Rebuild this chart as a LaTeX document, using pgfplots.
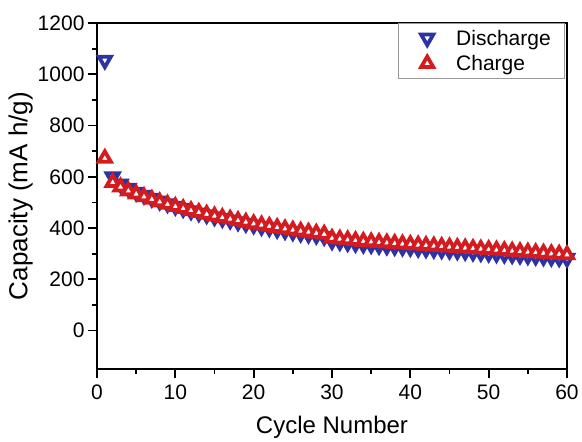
\documentclass[border=0pt]{standalone}
\usepackage{fontspec}
\setmainfont{Liberation Sans}
\usepackage{pgfplots}
\pgfplotsset{compat=1.18}
\definecolor{dblue}{RGB}{45,50,165}
\definecolor{dred}{RGB}{212,28,32}
\pgfplotstableread{
n dis ch
1 1055 672
2 600 578
3 572 560
4 555 545
5 540 533
6 528 522
7 516 512
8 505 502
9 495 493
10 485 484
11 476 476
12 467 468
13 459 461
14 452 454
15 444 447
16 437 441
17 431 435
18 424 429
19 418 423
20 412 417
21 406 412
22 401 407
23 395 402
24 390 397
25 385 392
26 380 388
27 376 384
28 372 380
29 367 376
30 350 360
31 347 357
32 343 354
33 340 351
34 337 348
35 335 346
36 332 344
37 330 342
38 328 340
39 326 338
40 324 336
41 321 334
42 319 332
43 317 330
44 315 328
45 313 326
46 311 324
47 309 322
48 306 320
49 304 318
50 302 316
51 300 314
52 298 312
53 296 310
54 294 308
55 292 306
56 290 304
57 288 302
58 286 300
59 284 298
60 282 296
}\datatab
\begin{document}
\begin{tikzpicture}
\begin{axis}[name=ax, scale only axis, width=470pt, height=346pt,
  xmin=0, xmax=60, ymin=-150, ymax=1200,
  xtick={0,10,...,60}, ytick={0,200,...,1200},
  minor x tick num=1, minor y tick num=1,
  tick align=outside, xtick pos=bottom, ytick pos=left,
  major tick length=9pt, minor tick length=5pt,
  axis line style={line width=2pt},
  every tick/.style={line width=1.8pt, black},
  /pgf/number format/assume math mode=true,
  /pgf/number format/1000 sep={},
  tick label style={font=\fontsize{21}{21}\selectfont},
  xticklabel style={yshift=-3pt},
  xlabel={Cycle Number}, ylabel={Capacity (mA h/g)},
  xlabel style={font=\fontsize{24}{24}\selectfont, yshift=-10pt},
  ylabel style={font=\fontsize{26}{26}\selectfont, yshift=-2pt},
  legend style={at={(0.996,1)}, anchor=north east, draw=gray!80, line width=0.7pt,
    font=\fontsize{21}{21}\selectfont, inner xsep=0pt, inner ysep=4pt,
    row sep=4pt, column sep=0pt,
    cells={anchor=west, inner sep=1pt, text height=16pt, text depth=5pt}},
  legend cell align=left,
  legend image code/.code={\path[draw=none] (0pt,0pt) -- (56pt,0pt); \draw[#1] plot coordinates {(29pt,0pt)};},
  clip=false,
]
\addplot[only marks, line width=3.8pt, mark=triangle*, mark options={rotate=180, draw=dblue, fill=white, line width=3.8pt}, mark size=7pt] table[x=n, y=dis] {\datatab};
\addlegendentry{Discharge\hspace*{12pt}}
\addplot[only marks, line width=3.8pt, mark=triangle*, mark options={draw=dred, fill=white, line width=3.8pt}, mark size=7pt] table[x=n, y=ch] {\datatab};
\addlegendentry{Charge}
\end{axis}
\path ([shift={(-97pt,-65pt)}]ax.south west) rectangle ([shift={(15pt,23pt)}]ax.north east);
\end{tikzpicture}
\end{document}
